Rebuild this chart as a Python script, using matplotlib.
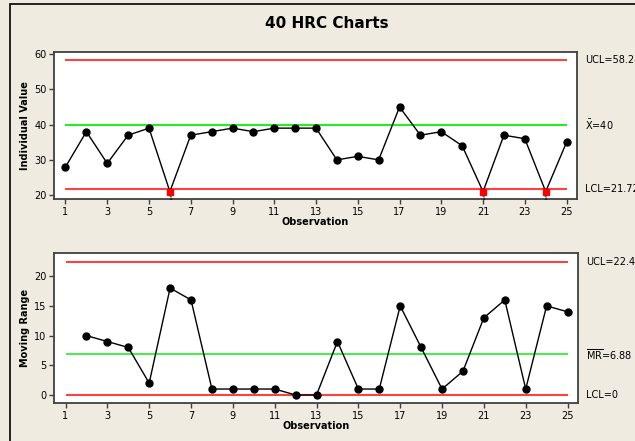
import numpy as np
import matplotlib.pyplot as plt
from matplotlib.patches import Rectangle
from matplotlib.transforms import blended_transform_factory

# datos
obs = np.arange(1, 26)
valores = [28, 38, 29, 37, 39, 21, 37, 38, 39, 38, 39, 39, 39,
           30, 31, 30, 45, 37, 38, 34, 21, 37, 36, 21, 35]
obs_mr = np.arange(2, 26)
rangos = [10, 9, 8, 2, 18, 16, 1, 1, 1, 1, 0, 0, 9,
          1, 1, 15, 8, 1, 4, 13, 16, 1, 15, 14]
fuera = [6, 21, 24]          # puntos que fallan la prueba 1

x_media, ucl_i, lcl_i = 40, 58.28, 21.72
mr_media, ucl_mr, lcl_mr = 6.88, 22.46, 0

fondo = '#EFEBE1'
gris = '#404040'
rojo = '#FF4040'
verde = '#22EE22'

fig = plt.figure(figsize=(6.35, 4.41), dpi=100, facecolor=fondo)
fig.patches.append(Rectangle((10/635, -0.1), 1.2, 1 - 4/441 + 0.1,
                             transform=fig.transFigure, fill=False,
                             edgecolor='black', linewidth=1.2))
fig.text(327/635, 1 - 24/441, '40 HRC Charts', ha='center', va='center',
         fontsize=11, fontweight='bold')


def estilo(ax, ylim, yticks, ylabel):
    ax.set_xlim(0.45, 25.5)
    ax.set_ylim(*ylim)
    ax.set_xticks(np.arange(1, 26, 2))
    ax.set_yticks(yticks)
    ax.tick_params(labelsize=7, length=3.5, width=1, color=gris, pad=2)
    for s in ax.spines.values():
        s.set_color(gris)
        s.set_linewidth(1.3)
    ax.set_xlabel('Observation', fontsize=7, fontweight='bold', labelpad=0)
    ax.set_ylabel(ylabel, fontsize=7, fontweight='bold', labelpad=3)


def etiquetas(ax, textos, ys):
    tr = blended_transform_factory(ax.transAxes, ax.transData)
    for t, y in zip(textos, ys):
        ax.text(1.015, y, t, transform=tr, fontsize=7, va='center',
                ha='left', clip_on=False)


# grafico de valores individuales
ax1 = fig.add_axes([54/635, 1 - 199/441, 523/635, 147/441])
ax1.hlines([ucl_i, lcl_i], 1, 25, color=rojo, linewidth=1.5)
ax1.hlines(x_media, 1, 25, color=verde, linewidth=1.5)
ax1.plot(obs, valores, color='black', linewidth=1, zorder=3)
normales = [i for i in range(len(obs)) if obs[i] not in fuera]
ax1.plot(obs[normales], np.array(valores)[normales], linestyle='none',
         marker='o', color='black', markersize=5, zorder=4)
for o in fuera:
    v = valores[o - 1]
    ax1.plot(o, v, marker='s', color='red', markersize=4.5, zorder=4)
    ax1.text(o, 19.0, '1', fontsize=4.5, ha='center', va='center', zorder=6)
estilo(ax1, (18.9, 60.6), [20, 30, 40, 50, 60], 'Individual Value')
etiquetas(ax1, ['UCL=58.28', r'$\bar{\mathrm{X}}$=40', 'LCL=21.72'],
          [ucl_i, x_media, lcl_i])

# grafico de rangos moviles
ax2 = fig.add_axes([54/635, 1 - 403/441, 524/635, 150/441])
ax2.hlines([ucl_mr, lcl_mr], 1, 25, color=rojo, linewidth=1.5)
ax2.hlines(mr_media, 1, 25, color=verde, linewidth=1.2)
ax2.plot(obs_mr, rangos, color='black', linewidth=1, marker='o',
         markersize=5, zorder=3)
estilo(ax2, (-1.35, 23.9), [0, 5, 10, 15, 20], 'Moving Range')
etiquetas(ax2, ['UCL=22.46', r'$\overline{\mathrm{MR}}$=6.88', 'LCL=0'],
          [ucl_mr, mr_media, lcl_mr])

plt.savefig('out.png', dpi=100, facecolor=fondo)
